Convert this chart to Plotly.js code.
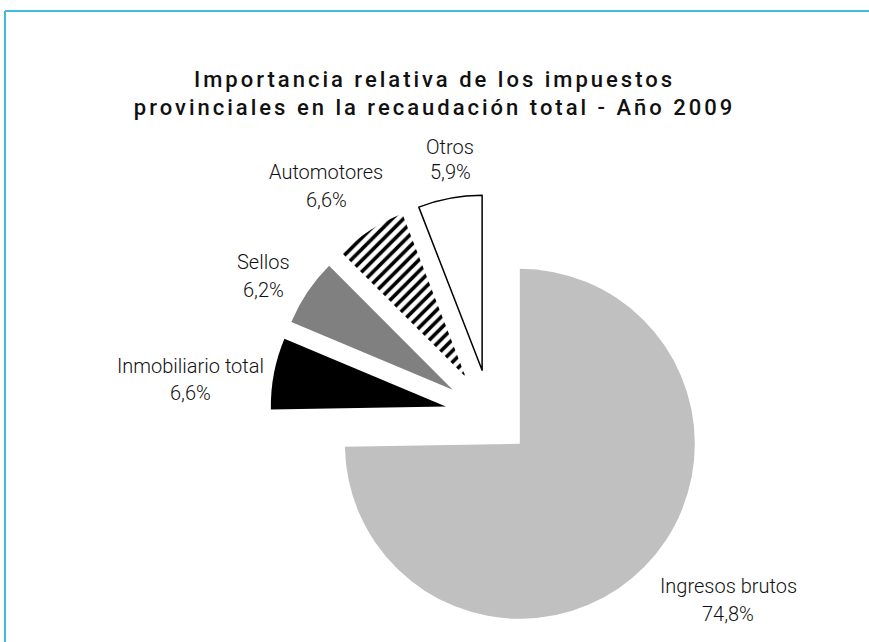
<!DOCTYPE html>
<html>
<head>
<meta charset="utf-8">
<script src="https://cdn.plot.ly/plotly-3.0.1.min.js"></script>
<style>
html,body{margin:0;padding:0;background:#fff;}
#chart{width:869px;height:642px;}
.gtitle{letter-spacing:3px;}
</style>
</head>
<body>
<div id="chart"></div>
<script>
var categories = ["Ingresos brutos", "Inmobiliario total", "Sellos", "Automotores", "Otros"];
var values = [74.8, 6.6, 6.2, 6.6, 5.9];
var sliceColors = ["#c0c0c0", "#000000", "#808080", "#ffffff", "#ffffff"];
var pulls = [0.235, 0.26, 0.26, 0.26, 0.26];

var W = 869, H = 642;
function px(x){return x / W;}
function py(y){return 1 - y / H;}
function fmt(v){return v.toFixed(1).replace('.', ',') + '%';}

// label positions (pixels): [name x, name y, value y]
var labelPos = [
  [728, 586, 614],
  [190, 366, 393],
  [263, 262, 290],
  [326, 172, 200],
  [450, 147, 172]
];

var annotations = [];
categories.forEach(function(c, i){
  var p = labelPos[i];
  var f = {family: "Roboto, 'Liberation Sans', sans-serif", size: 20, color: "#111", weight: 300};
  annotations.push({xref:'paper', yref:'paper', x:px(p[0]), y:py(p[1]), text:c, showarrow:false, xanchor:'center', yanchor:'middle', font:f});
  annotations.push({xref:'paper', yref:'paper', x:px(p[0]), y:py(p[2]), text:fmt(values[i]), showarrow:false, xanchor:'center', yanchor:'middle', font:f});
});

var cx = 490.5, cy = 415, half = 220.5;

var trace = {
  type: 'pie',
  labels: categories,
  values: values,
  sort: false,
  direction: 'clockwise',
  rotation: 0,
  pull: pulls,
  textinfo: 'none',
  hoverinfo: 'label+percent',
  showlegend: false,
  domain: {x: [px(cx - half), px(cx + half)], y: [py(cy + half), py(cy - half)]},
  marker: {
    colors: sliceColors,
    line: {color: "#000000", width: [0, 0, 0, 0, 1.5]},
    pattern: {
      shape: ["", "", "", "/", ""],
      fgcolor: "#000000",
      bgcolor: "#ffffff",
      size: 8,
      solidity: 0.45
    }
  }
};

var layout = {
  width: W, height: H,
  margin: {l:0, r:0, t:0, b:0},
  paper_bgcolor: '#ffffff',
  title: {
    text: "Importancia relativa de los impuestos<br>provinciales en la recaudación total - Año 2009",
    font: {family: "Roboto, 'Liberation Sans', Arial, sans-serif", size: 22, color: "#111", weight: 500},
    x: 0.5, xanchor: 'center', y: py(86.5), yanchor: 'middle'
  },
  annotations: annotations,
  shapes: [
    {type:'line', xref:'paper', yref:'paper', x0:px(5), x1:1, y0:py(11), y1:py(11), line:{color:'#40bcd8', width:2}},
    {type:'line', xref:'paper', yref:'paper', x0:px(5), x1:px(5), y0:py(11), y1:0, line:{color:'#40bcd8', width:2}}
  ]
};

Plotly.newPlot('chart', [trace], layout, {displayModeBar:false, staticPlot:true});
</script>
</body>
</html>
